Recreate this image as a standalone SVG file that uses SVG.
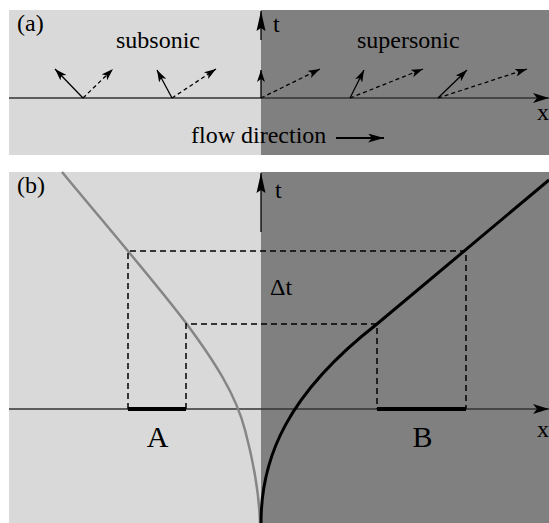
<svg xmlns="http://www.w3.org/2000/svg" width="549" height="523" viewBox="0 0 549 523">
  <style>
    .lt { fill: #d9d9d9; }
    .dk { fill: #808080; }
    .axis { stroke: #333333; stroke-width: 1.3; fill: none; }
    .vec { stroke: #000; stroke-width: 1.3; fill: none; }
    .vecd { stroke: #000; stroke-width: 1.3; fill: none; stroke-dasharray: 4 3; }
    .box { stroke: #000; stroke-width: 1.5; fill: none; stroke-dasharray: 6 4; }
    .seg { stroke: #000; stroke-width: 4; }
    text { font-family: 'Liberation Serif', 'DejaVu Serif', serif; fill: #000; }
    .lbl { font-size: 24px; }
    .big { font-size: 30px; }
  </style>
  <defs>
    <marker id="ah" viewBox="0 0 12 8" refX="12" refY="4" markerWidth="12" markerHeight="8" markerUnits="userSpaceOnUse" orient="auto">
      <path d="M0,0 L12,4 L0,8 L3,4 z" fill="#000" stroke="none"/>
    </marker>
    <marker id="ahf" viewBox="0 0 16 9" refX="16" refY="4.5" markerWidth="16" markerHeight="9" markerUnits="userSpaceOnUse" orient="auto">
      <path d="M0,0 L16,4.5 L0,9 L4,4.5 z" fill="#000" stroke="none"/>
    </marker>
    <marker id="ahx" viewBox="0 0 16 10" refX="16" refY="5" markerWidth="16" markerHeight="10" markerUnits="userSpaceOnUse" orient="auto">
      <path d="M0,0 L16,5 L0,10 L4,5 z" fill="#000" stroke="none"/>
    </marker>
    <marker id="aht" viewBox="0 0 20 10" refX="20" refY="5" markerWidth="20" markerHeight="10" markerUnits="userSpaceOnUse" orient="auto">
      <path d="M0,0.5 L20,5 L0,9.5 L3,5 z" fill="#000" stroke="none"/>
    </marker>
  </defs>

  <!-- Panel (a) -->
  <g id="panel-a">
    <rect class="lt" x="9" y="10" width="252" height="145"/>
    <rect class="dk" x="261" y="10" width="288" height="145"/>
    <line class="axis" x1="9" y1="98" x2="549" y2="98" marker-end="url(#ahx)"/>
    <line class="vec" x1="261" y1="40" x2="261" y2="11" marker-end="url(#aht)"/>
    <text class="lbl" font-family="Liberation Serif" x="17" y="31">(a)</text>
    <text class="lbl" font-family="Liberation Serif" x="116" y="48">subsonic</text>
    <text class="lbl" font-family="Liberation Serif" x="357" y="48">supersonic</text>
    <text class="lbl" font-family="Liberation Serif" x="273" y="32">t</text>
    <text class="lbl" font-family="Liberation Serif" x="537" y="120">x</text>
    <text class="lbl" font-family="Liberation Serif" x="191" y="143">flow direction</text>
    <line x1="336" y1="138" x2="384" y2="138" stroke="#000" stroke-width="2" marker-end="url(#ahf)"/>
  </g>

  <g id="vectors-a">
    <line class="vec" x1="83" y1="98" x2="55" y2="69" marker-end="url(#ah)"/>
    <line class="vecd" x1="83" y1="98" x2="113" y2="69" marker-end="url(#ah)"/>
    <line class="vec" x1="172" y1="98" x2="157" y2="70" marker-end="url(#ah)"/>
    <line class="vecd" x1="172" y1="98" x2="216" y2="69" marker-end="url(#ah)"/>
    <line class="vec" x1="261" y1="98" x2="261" y2="70" marker-end="url(#ah)"/>
    <line class="vecd" x1="261" y1="98" x2="320" y2="69" marker-end="url(#ah)"/>
    <line class="vec" x1="350" y1="98" x2="364" y2="70" marker-end="url(#ah)"/>
    <line class="vecd" x1="350" y1="98" x2="423" y2="69" marker-end="url(#ah)"/>
    <line class="vec" x1="438" y1="98" x2="467" y2="70" marker-end="url(#ah)"/>
    <line class="vecd" x1="438" y1="98" x2="527" y2="69" marker-end="url(#ah)"/>
  </g>

  <!-- Panel (b) -->
  <g id="panel-b">
    <rect class="lt" x="9" y="172" width="252" height="351"/>
    <rect class="dk" x="261" y="172" width="288" height="351"/>
    <line class="axis" x1="9" y1="409" x2="549" y2="409" marker-end="url(#ahx)"/>
    <line class="vec" x1="261" y1="232" x2="261" y2="173" marker-end="url(#aht)"/>
    <text class="lbl" font-family="Liberation Serif" x="17" y="193">(b)</text>
    <text class="lbl" font-family="Liberation Serif" x="275" y="198">t</text>
    <text class="lbl" font-family="Liberation Serif" x="537" y="437">x</text>
    <text class="lbl" font-family="Liberation Serif" x="270" y="295">Δt</text>
  </g>

  <g id="curves-b">
    <path d="M62,172 C100,218 160,288 186,323 C215,362 236,395 245,430 C253,460 259,490 260,523" fill="none" stroke="#858585" stroke-width="2.5"/>
    <path d="M261,523 C261,458 287,394 377,324 L549,180" fill="none" stroke="#000" stroke-width="3"/>
  </g>

  <g id="boxes-b">
    <path class="box" d="M128,409 L128,251 L466,251 L466,409"/>
    <path class="box" d="M186,409 L186,324 L377,324 L377,409"/>
    <line class="seg" x1="128" y1="409" x2="186" y2="409"/>
    <line class="seg" x1="377" y1="409" x2="466" y2="409"/>
  </g>

  <g id="label-A"><text class="big" font-family="Liberation Serif" x="157.5" y="447" text-anchor="middle">A</text></g>
  <g id="label-B"><text class="big" font-family="Liberation Serif" x="422.5" y="447" text-anchor="middle">B</text></g>
</svg>
